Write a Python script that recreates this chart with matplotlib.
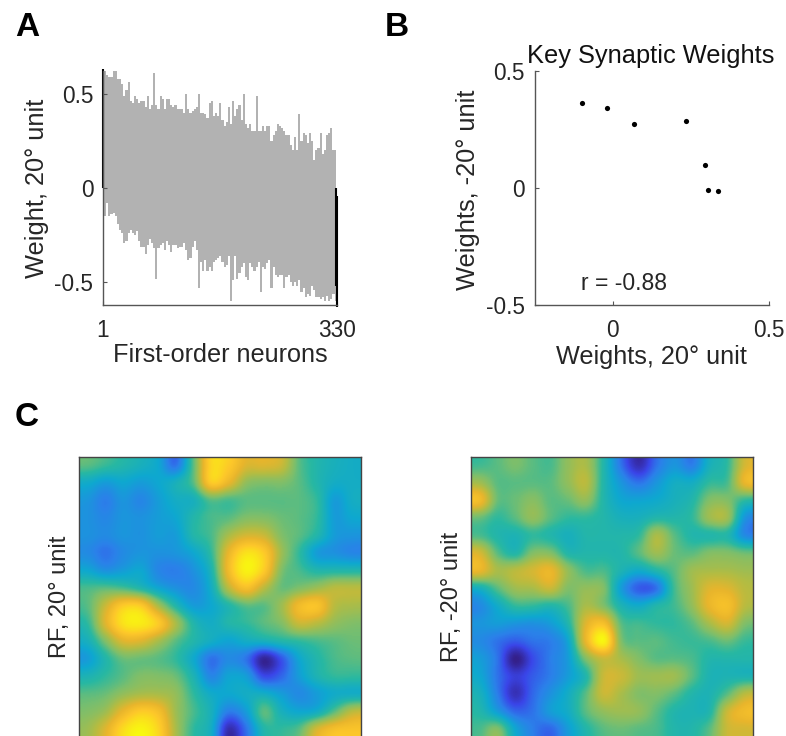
"""
Key synaptic weights figure: weight profile, weight scatter and two receptive fields
"""

import matplotlib.pyplot as plt
import numpy as np
from matplotlib.colors import LinearSegmentedColormap

plt.rcParams['font.family'] = ['Liberation Sans', 'DejaVu Sans']

W, H = 786, 736
TEXT = '#262626'

# A: upper and lower envelope, one value for every third neuron
upper = [.60, .62, .60, .59, .59, .63, .64, .58, .58, .55,
         .49, .52, .56, .46, .45, .49, .47, .45, .46, .46,
         .43, .49, .42, .44, .61, .44, .42, .49, .47, .42,
         .47, .47, .44, .43, .44, .42, .42, .42, .40, .50,
         .42, .40, .41, .42, .43, .50, .40, .40, .39, .37,
         .45, .46, .38, .40, .38, .45, .36, .33, .35, .43,
         .34, .46, .38, .42, .44, .36, .50, .34, .32, .34,
         .30, .30, .49, .30, .30, .33, .30, .33, .33, .25,
         .28, .30, .34, .33, .32, .30, .28, .28, .23, .20,
         .27, .20, .39, .25, .29, .28, .24, .29, .25, .15,
         .20, .21, .29, .18, .20, .28, .29, .32, .20, .20]
lower = [-.04, -.15, -.08, -.15, -.14, -.13, -.15, -.19, -.22, -.24,
         -.29, -.28, -.24, -.22, -.24, -.25, -.23, -.28, -.31, -.31,
         -.35, -.30, -.27, -.29, -.32, -.48, -.32, -.30, -.29, -.33,
         -.28, -.30, -.34, -.30, -.30, -.32, -.31, -.31, -.29, -.33,
         -.38, -.37, -.31, -.28, -.33, -.53, -.39, -.44, -.38, -.44,
         -.42, -.44, -.39, -.38, -.37, -.36, -.39, -.42, -.41, -.36,
         -.60, -.49, -.36, -.48, -.45, -.42, -.40, -.47, -.49, -.40,
         -.42, -.44, -.42, -.39, -.55, -.42, -.43, -.40, -.38, -.53,
         -.42, -.46, -.47, -.46, -.46, -.53, -.47, -.46, -.50, -.52,
         -.50, -.52, -.49, -.55, -.53, -.58, -.56, -.57, -.52, -.54,
         -.58, -.58, -.59, -.58, -.60, -.57, -.60, -.59, -.56, -.60]
neurons = np.arange(1, 330, 3)

# A: key neurons drawn in black
key_neurons = [1, 328, 330]
key_start = [0, 0, -.04]
key_end = [.63, -.52, -.63]

# B: key synaptic weights
weights_pos = [-.097, -.019, .068, .235, .294, .306, .337]
weights_neg = [.362, .344, .274, .286, .100, -.009, -.014]

# C: receptive fields, 16 x 16 cells
rf_pos = np.array([
    [.50, .46, .42, .38, .33, .20, .50, .88, .85, .72, .72, .68, .50, .42, .38, .36],
    [.35, .30, .33, .30, .33, .38, .50, .85, .75, .58, .55, .55, .50, .42, .36, .36],
    [.28, .22, .28, .24, .30, .36, .38, .50, .48, .50, .50, .50, .50, .45, .30, .36],
    [.27, .24, .28, .27, .30, .33, .42, .48, .50, .55, .55, .52, .50, .45, .30, .33],
    [.27, .25, .28, .27, .30, .30, .42, .48, .62, .70, .68, .55, .50, .42, .30, .28],
    [.25, .20, .25, .28, .27, .28, .33, .45, .75, .92, .85, .60, .45, .30, .27, .24],
    [.33, .27, .30, .33, .24, .22, .27, .40, .78, .97, .85, .55, .48, .42, .42, .42],
    [.48, .50, .48, .42, .33, .27, .25, .36, .65, .80, .65, .52, .55, .60, .65, .65],
    [.50, .68, .85, .85, .62, .42, .30, .33, .42, .50, .50, .60, .78, .82, .65, .62],
    [.45, .72, .92, .95, .85, .62, .42, .36, .42, .45, .50, .55, .68, .65, .58, .55],
    [.38, .55, .72, .72, .62, .50, .42, .36, .32, .36, .38, .42, .45, .48, .50, .52],
    [.30, .42, .52, .52, .50, .45, .34, .20, .25, .20, .02, .15, .33, .42, .48, .50],
    [.40, .45, .50, .55, .55, .52, .40, .24, .32, .30, .13, .18, .30, .40, .45, .45],
    [.50, .52, .58, .62, .62, .58, .45, .35, .33, .36, .36, .30, .25, .30, .35, .36],
    [.55, .60, .75, .85, .80, .60, .48, .38, .22, .30, .50, .38, .33, .36, .50, .65],
    [.60, .72, .90, .98, .88, .62, .45, .36, .05, .20, .42, .45, .50, .70, .80, .82],
])
rf_neg = np.array([
    [.47, .50, .54, .50, .48, .58, .62, .42, .20, .05, .20, .28, .22, .38, .45, .70],
    [.60, .50, .50, .50, .50, .58, .65, .42, .28, .20, .28, .36, .36, .45, .48, .75],
    [.78, .52, .52, .56, .50, .52, .58, .42, .33, .32, .34, .38, .42, .55, .55, .45],
    [.52, .45, .50, .58, .50, .45, .45, .42, .38, .38, .42, .42, .45, .60, .60, .28],
    [.48, .42, .40, .45, .42, .38, .42, .42, .42, .45, .62, .50, .42, .42, .42, .25],
    [.70, .50, .42, .55, .55, .42, .42, .42, .42, .50, .60, .52, .50, .55, .55, .52],
    [.75, .62, .65, .70, .75, .58, .48, .48, .40, .35, .42, .50, .60, .62, .62, .60],
    [.38, .50, .60, .62, .68, .55, .58, .55, .30, .16, .20, .47, .60, .72, .72, .65],
    [.25, .35, .45, .45, .42, .48, .62, .55, .40, .35, .42, .47, .58, .75, .80, .65],
    [.28, .30, .28, .27, .30, .42, .72, .80, .50, .47, .45, .45, .50, .62, .70, .55],
    [.25, .20, .16, .20, .22, .33, .75, .98, .55, .50, .50, .47, .46, .48, .52, .46],
    [.30, .20, .00, .13, .22, .30, .55, .68, .62, .55, .50, .50, .48, .42, .42, .42],
    [.33, .20, .10, .16, .22, .30, .42, .68, .68, .60, .60, .60, .50, .40, .40, .40],
    [.38, .22, .06, .18, .27, .36, .50, .68, .62, .55, .55, .50, .42, .40, .50, .65],
    [.42, .30, .18, .20, .30, .36, .50, .58, .60, .58, .50, .42, .40, .42, .68, .78],
    [.48, .55, .33, .22, .18, .30, .42, .50, .52, .50, .48, .42, .42, .50, .68, .70],
])

# parula風のカラーマップ
parula = LinearSegmentedColormap.from_list('parula_like', [
    (0.00, '#34208a'), (0.12, '#3a45e8'), (0.22, '#2b80ea'), (0.33, '#0ea8d0'),
    (0.44, '#28b8a2'), (0.54, '#7cbf6c'), (0.64, '#b4bc42'), (0.74, '#e8b52c'),
    (0.84, '#fdc72a'), (1.00, '#f8fb0e'),
])


def axes_px(left, top, right, bottom):
    return fig.add_axes([left / W, 1 - bottom / H, (right - left) / W, (bottom - top) / H])


def label(x, y, s, **kw):
    kw.setdefault('color', TEXT)
    kw.setdefault('ha', 'center')
    kw.setdefault('va', 'center')
    fig.text(x / W, 1 - y / H, s, **kw)


fig = plt.figure(figsize=(W / 100, H / 100), dpi=100)

# A
ax1 = axes_px(103, 71, 337, 305)
ax1.fill_between(neurons, lower, upper, step='mid', color='#b2b2b2', lw=0)
ax1.vlines(key_neurons, key_start, key_end, color='black', lw=1.5, clip_on=False)
ax1.set_xlim(1, 330)
ax1.set_ylim(-.62, .62)
ax1.set_xticks([1, 330], ['1', '330'])
ax1.set_yticks([-.5, 0, .5], ['-0.5', '0', '0.5'])

# B
ax2 = axes_px(534.5, 71, 769, 305)
ax2.scatter(weights_pos, weights_neg, s=14, color='black', linewidths=0)
ax2.set_xlim(-.25, .5)
ax2.set_ylim(-.5, .5)
ax2.set_xticks([0, .5], ['0', '0.5'])
ax2.set_yticks([-.5, 0, .5], ['-0.5', '0', '0.5'])
ax2.text(-.1, -.41, 'r = -0.88', fontsize=16.6, color=TEXT, va='center')

for ax in [ax1, ax2]:
    for side in ['top', 'right']:
        ax.spines[side].set_visible(False)
    for side in ['left', 'bottom']:
        ax.spines[side].set_color('#555555')
        ax.spines[side].set_linewidth(1.0)
    ax.tick_params(direction='in', length=3, width=0.8, color='#555555',
                   labelsize=16.3, labelcolor=TEXT, pad=7)
    ax.tick_params(axis='x', pad=10)

label(37, 188, 'Weight, 20° unit', rotation=90, fontsize=18.3)
label(220, 355, 'First-order neurons', fontsize=18.2)
label(468, 190, 'Weights, -20° unit', rotation=90, fontsize=18.3)
label(651, 357, 'Weights, 20° unit', fontsize=18.2)
label(651, 56, 'Key Synaptic Weights', fontsize=18.3, color='#111111')

# C
for rf, left, right, name, name_x in [(rf_pos, 79, 361, 'RF, 20° unit', 60),
                                      (rf_neg, 471, 753, 'RF, -20° unit', 452)]:
    ax = axes_px(left, 456.5, right, 738)
    ax.imshow(rf, cmap=parula, vmin=0, vmax=1, aspect='auto', interpolation='catrom')
    ax.set_xticks([])
    ax.set_yticks([])
    for spine in ax.spines.values():
        spine.set_color('#444444')
        spine.set_linewidth(1.0)
    label(name_x, 597, name, rotation=90, fontsize=17)

label(15, 27, 'A', ha='left', fontsize=24, fontweight='bold', color='black')
label(385, 27, 'B', ha='left', fontsize=24, fontweight='bold', color='black')
label(15, 417, 'C', ha='left', fontsize=24, fontweight='bold', color='black')

plt.savefig('out.png', dpi=100)
